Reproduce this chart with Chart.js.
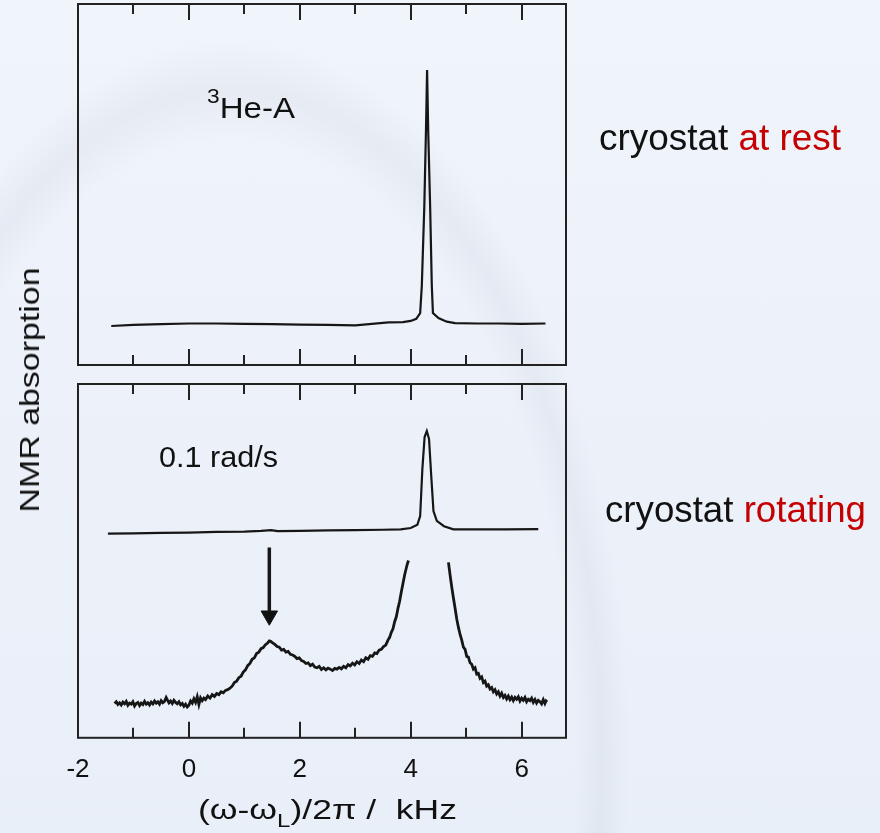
<!DOCTYPE html>
<html>
<head>
<meta charset="utf-8">
<script src="https://cdn.jsdelivr.net/npm/chart.js@4.4.1/dist/chart.umd.min.js"></script>
<style>
  body { margin: 0; width: 880px; height: 833px; overflow: hidden; position: relative;
         background: linear-gradient(180deg, #f0f4fb 0%, #e9eff8 100%);
         font-family: "Liberation Sans", Arial, sans-serif; color: #111; }
  #arc { position: absolute; left: 0; top: 0; width: 880px; height: 833px;
         background: radial-gradient(400px 720px at 230px 760px, rgba(150,160,178,0) 86%, rgba(150,160,178,0.10) 93%, rgba(150,160,178,0) 100%); }
  canvas { position: absolute; left: 0; }
  #topChart { top: 0; }
  #botChart { top: 370px; }
  .lbl { position: absolute; white-space: nowrap; line-height: 1; transform-origin: left top; }
  .red { color: #c40000; }
</style>
</head>
<body>
<div id="arc"></div>
<canvas id="topChart" width="880" height="380"></canvas>
<canvas id="botChart" width="880" height="463"></canvas>

<div class="lbl" data-w="88" data-base="118.3" data-size="29" style="left:207px"><span style="font-size:20px;position:relative;top:-15px">3</span>He-A</div>
<div class="lbl" data-w="119" data-base="467.3" data-size="29" style="left:159px">0.1 rad/s</div>
<div class="lbl" data-w="242" data-base="150" data-size="36" style="left:599px">cryostat <span class="red">at rest</span></div>
<div class="lbl" data-w="261" data-base="522.7" data-size="36" style="left:605px">cryostat <span class="red">rotating</span></div>
<div class="lbl" data-w="259" data-base="820" data-size="28" style="left:198px">(ω-ω<span style="font-size:19px;position:relative;top:8px">L</span>)/2π /&nbsp; kHz</div>
<div class="lbl" id="ylab" style="font-size:28px;left:30px;top:389.5px;transform-origin:center">NMR absorption</div>

<script>
// x axis (kHz)
const xMin = -2, xMax = 6.8;
const tickValues = [-2, -1, 0, 1, 2, 3, 4, 5, 6];
const tickLabels = [-2, 0, 2, 4, 6];

// top panel: cryostat at rest
const restX = [-1.40, -1.0, -0.5, 0.0, 0.5, 1.0, 1.5, 2.0, 2.5, 3.0, 3.3, 3.6, 3.86, 4.0, 4.1,
  4.17, 4.20, 4.245, 4.275, 4.295, 4.315, 4.35, 4.38, 4.40, 4.5, 4.65, 4.8, 5.2, 5.6, 6.0, 6.43];
const restY = [1.08, 1.11, 1.13, 1.15, 1.15, 1.14, 1.13, 1.12, 1.11, 1.10, 1.14, 1.18, 1.19, 1.22, 1.28,
  1.44, 2.2, 4.4, 6.5, 8.17, 6.5, 4.4, 2.2, 1.44, 1.3, 1.2, 1.16, 1.15, 1.15, 1.14, 1.15];

// bottom panel, upper trace: 0.1 rad/s
const rotX = [-1.46, -1.0, -0.5, 0.0, 0.5, 1.0, 1.3, 1.48, 1.6, 2.0, 2.5, 3.0, 3.5, 3.82, 4.0, 4.12,
  4.17, 4.21, 4.25, 4.29, 4.33, 4.37, 4.41, 4.47, 4.6, 4.77, 5.2, 5.7, 6.30];
const rotY = [5.77, 5.78, 5.79, 5.80, 5.82, 5.83, 5.85, 5.87, 5.84, 5.85, 5.86, 5.87, 5.88, 5.89, 5.93, 6.02,
  6.27, 7.6, 8.5, 8.67, 8.45, 7.4, 6.41, 6.13, 5.98, 5.89, 5.89, 5.89, 5.90];

// bottom panel, lower trace (left of the cut-off peak)
const lowLX = [-1.34, -1.31, -1.28, -1.25, -1.22, -1.19, -1.16, -1.13, -1.10, -1.07, -1.04, -1.01, -0.98, -0.95,
  -0.92, -0.89, -0.86, -0.83, -0.80, -0.77, -0.74, -0.71, -0.68, -0.65, -0.62, -0.59, -0.56, -0.53, -0.50, -0.47,
  -0.44, -0.41, -0.39, -0.36, -0.33, -0.30, -0.27, -0.24, -0.21, -0.18, -0.15, -0.12, -0.09, -0.06, -0.03, 0.00,
  0.03, 0.06, 0.09, 0.12, 0.15, 0.18, 0.21, 0.24, 0.27, 0.30, 0.34, 0.38, 0.42, 0.46, 0.50, 0.54, 0.58, 0.62,
  0.66, 0.70, 0.74, 0.78, 0.82, 0.86, 0.90, 0.94, 0.98, 1.02, 1.06, 1.10, 1.14, 1.18, 1.22, 1.26, 1.30, 1.34,
  1.38, 1.42, 1.45, 1.48, 1.51, 1.55, 1.59, 1.63, 1.67, 1.71, 1.75, 1.79, 1.83, 1.87, 1.91, 1.95, 1.99, 2.03,
  2.07, 2.11, 2.15, 2.19, 2.23, 2.27, 2.31, 2.35, 2.39, 2.43, 2.47, 2.51, 2.55, 2.59, 2.63, 2.67, 2.71, 2.75,
  2.79, 2.83, 2.87, 2.91, 2.95, 2.99, 3.03, 3.07, 3.11, 3.15, 3.19, 3.23, 3.27, 3.31, 3.35, 3.39, 3.43, 3.47,
  3.51, 3.55, 3.59, 3.62, 3.65, 3.68, 3.71, 3.74, 3.77, 3.80, 3.83, 3.86, 3.89, 3.92, 3.94, 3.96];
const lowLY = [0.97, 1.02, 0.94, 0.99, 0.93, 1.01, 0.96, 1.03, 0.92, 0.98, 0.95, 1.02, 0.90, 0.97,
  1.00, 0.91, 0.98, 0.94, 1.03, 0.95, 0.99, 0.93, 1.01, 0.96, 1.04, 0.98, 1.02, 0.95, 1.05, 0.99,
  1.03, 1.14, 1.08, 0.99, 1.04, 0.97, 1.06, 1.00, 0.96, 1.02, 0.93, 0.97, 0.89, 0.95, 0.87, 0.92,
  1.04, 0.98, 1.10, 1.00, 1.16, 0.94, 1.13, 1.05, 1.12, 1.08, 1.18, 1.12, 1.22, 1.17, 1.25, 1.22, 1.30, 1.27,
  1.34, 1.36, 1.40, 1.46, 1.56, 1.60, 1.70, 1.74, 1.86, 1.92, 2.04, 2.10, 2.22, 2.26, 2.38, 2.42, 2.52, 2.55,
  2.63, 2.68, 2.74, 2.72, 2.68, 2.64, 2.58, 2.56, 2.48, 2.50, 2.42, 2.44, 2.36, 2.34, 2.30, 2.24, 2.26, 2.18,
  2.16, 2.10, 2.12, 2.04, 2.08, 2.00, 1.98, 2.02, 1.93, 1.98, 1.92, 1.97, 1.94, 1.90, 1.96, 1.94, 1.99, 1.95,
  2.02, 1.98, 2.07, 2.03, 2.11, 2.06, 2.15, 2.10, 2.20, 2.15, 2.26, 2.22, 2.32, 2.30, 2.40, 2.38, 2.48, 2.50,
  2.58, 2.62, 2.76, 2.84, 2.98, 3.08, 3.28, 3.42, 3.66, 3.86, 4.12, 4.36, 4.60, 4.80, 4.92, 5.01];

// bottom panel, lower trace (right of the cut-off peak)
const lowRX = [4.68, 4.70, 4.72, 4.74, 4.77, 4.80, 4.83, 4.86, 4.89, 4.92, 4.95, 4.98, 5.01, 5.04, 5.07, 5.10,
  5.13, 5.16, 5.19, 5.22, 5.25, 5.28, 5.31, 5.34, 5.37, 5.40, 5.43, 5.46, 5.49, 5.52, 5.55, 5.58, 5.61, 5.64,
  5.67, 5.70, 5.73, 5.76, 5.79, 5.82, 5.85, 5.88, 5.91, 5.94, 5.97, 6.00, 6.03, 6.06, 6.09, 6.12, 6.15, 6.18,
  6.21, 6.24, 6.27, 6.30, 6.33, 6.36, 6.39, 6.42, 6.44, 6.46];
const lowRY = [4.96, 4.72, 4.48, 4.26, 3.95, 3.66, 3.36, 3.12, 2.92, 2.76, 2.56, 2.50, 2.30, 2.28, 2.12, 2.08,
  1.94, 1.98, 1.80, 1.82, 1.68, 1.72, 1.56, 1.60, 1.46, 1.50, 1.38, 1.42, 1.30, 1.36, 1.24, 1.30, 1.18, 1.26,
  1.14, 1.20, 1.10, 1.18, 1.08, 1.15, 1.05, 1.14, 1.09, 1.16, 1.04, 1.12, 1.06, 1.14, 1.02, 1.09, 1.05, 1.12,
  1.00, 1.08, 0.98, 1.06, 1.02, 0.96, 1.08, 0.97, 1.04, 1.01];

// arrow pointing at the satellite peak
const arrowX = 1.45, arrowTop = 5.38, arrowShaftEnd = 3.55, arrowHead = 3.45;

const pts = (xs, ys) => xs.map((x, i) => ({ x: x, y: ys[i] }));

const frame = {
  id: 'frame',
  afterDatasetsDraw(chart) {
    const { ctx, chartArea: a, scales: { x } } = chart;
    ctx.save();
    ctx.strokeStyle = '#222';
    ctx.lineWidth = 2;
    ctx.strokeRect(a.left, a.top, a.right - a.left, a.bottom - a.top);
    tickValues.forEach(v => {
      const px = Math.round(x.getPixelForValue(v));
      const len = v % 2 === 0 ? 16 : 10;
      ctx.beginPath();
      ctx.moveTo(px, a.top); ctx.lineTo(px, a.top + len);
      ctx.moveTo(px, a.bottom); ctx.lineTo(px, a.bottom - len);
      ctx.stroke();
    });
    ctx.restore();
  }
};

function line(data, w) {
  return { data: data, borderColor: '#161616', borderWidth: w, pointRadius: 0, tension: 0, fill: false };
}

const common = {
  responsive: false,
  animation: false,
  events: [],
  plugins: { legend: { display: false }, tooltip: { enabled: false } },
  elements: { point: { radius: 0 } }
};

new Chart(document.getElementById('topChart'), {
  type: 'scatter',
  data: { datasets: [line(pts(restX, restY), 2.2)] },
  options: Object.assign({}, common, {
    showLine: true,
    layout: { padding: { left: 78, right: 314, top: 4, bottom: 15 } },
    scales: {
      x: { type: 'linear', display: false, min: xMin, max: xMax },
      y: { display: false, min: 0, max: 10 }
    }
  }),
  plugins: [frame]
});

new Chart(document.getElementById('botChart'), {
  type: 'scatter',
  data: {
    datasets: [
      line(pts(rotX, rotY), 2.2),
      line(pts(lowLX, lowLY), 2.8),
      line(pts(lowRX, lowRY), 2.8),
      line([{ x: arrowX, y: arrowTop }, { x: arrowX, y: arrowShaftEnd }], 3.5),
      { data: [{ x: arrowX, y: arrowHead }], showLine: false, pointStyle: 'triangle', rotation: 180,
        pointRadius: 9.5, backgroundColor: '#111', borderColor: '#111', borderWidth: 1 }
    ]
  },
  options: Object.assign({}, common, {
    showLine: true,
    layout: { padding: { left: 78, right: 314, top: 14, bottom: 32 } },
    scales: {
      x: {
        type: 'linear', position: 'bottom', min: xMin, max: xMax,
        grid: { display: false, drawTicks: false },
        border: { display: false },
        afterBuildTicks: axis => { axis.ticks = tickLabels.map(v => ({ value: v })); },
        ticks: { autoSkip: false, maxRotation: 0, padding: 16, color: '#111',
                 font: { family: '"Liberation Sans", Arial, sans-serif', size: 26 } }
      },
      y: { display: false, min: 0, max: 10 }
    }
  }),
  plugins: [frame]
});

// text labels: place by baseline, stretch to the measured width
document.querySelectorAll('.lbl[data-w]').forEach(el => {
  const size = +el.dataset.size;
  el.style.fontSize = size + 'px';
  el.style.top = (+el.dataset.base - 0.8465 * size) + 'px';
  const s = +el.dataset.w / el.getBoundingClientRect().width;
  el.style.transform = 'scaleX(' + s + ')';
});
const yl = document.getElementById('ylab');
const ys = 245 / yl.getBoundingClientRect().width;
yl.style.transform = 'translate(-50%,-50%) rotate(-90deg) scaleX(' + ys + ')';
</script>
</body>
</html>
